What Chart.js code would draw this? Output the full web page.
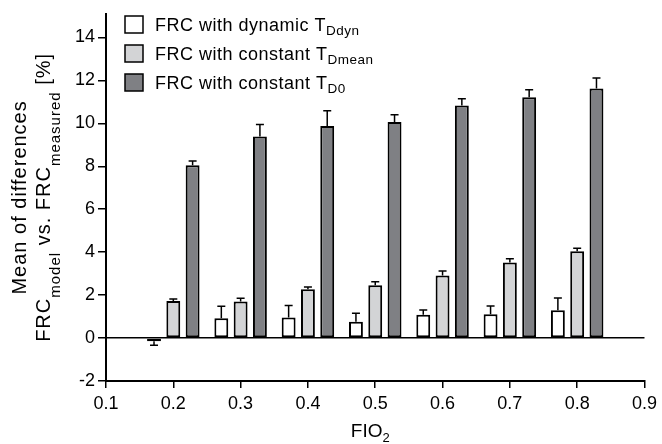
<!DOCTYPE html>
<html>
<head>
<meta charset="utf-8">
<script src="https://cdn.jsdelivr.net/npm/chart.js@4/dist/chart.umd.min.js"></script>
<style>
    html, body { margin: 0; padding: 0; background: #fff; }
    #wrap { width: 662px; height: 444px; position: relative; }
</style>
</head>
<body>
<div id="wrap"><canvas id="frc-chart"></canvas></div>
<script>
// FIO2 categories (0.1 and 0.9 are empty ends of the axis)
const fio2Labels = ['0.1', '0.2', '0.3', '0.4', '0.5', '0.6', '0.7', '0.8', '0.9'];

// mean of differences [%] and error (SD) per series
const dynamicMean = [null, -0.15, 0.92, 0.96, 0.76, 1.08, 1.11, 1.30, null];
const dynamicErr  = [null, 0.18, 0.56, 0.56, 0.40, 0.23, 0.38, 0.56, null];
const dmeanMean   = [null, 1.72, 1.70, 2.27, 2.46, 2.91, 3.52, 4.04, null];
const dmeanErr    = [null, 0.10, 0.15, 0.11, 0.16, 0.21, 0.17, 0.14, null];
const d0Mean      = [null, 8.05, 9.39, 9.88, 10.06, 10.83, 11.21, 11.62, null];
const d0Err       = [null, 0.20, 0.55, 0.70, 0.34, 0.31, 0.35, 0.49, null];

const seriesColors = ['#ffffff', '#d3d4d6', '#7f8084'];
const legendLabels = [
    [{ t: 'FRC with dynamic T' }, { t: 'Ddyn', sub: true }],
    [{ t: 'FRC with constant T' }, { t: 'Dmean', sub: true }],
    [{ t: 'FRC with constant T' }, { t: 'D0', sub: true }]
];
const yTickValues = [-2, 0, 2, 4, 6, 8, 10, 12, 14];

const chartFont = '"Liberation Sans", Arial, sans-serif';
const meansList = [dynamicMean, dmeanMean, d0Mean];
const errsList = [dynamicErr, dmeanErr, d0Err];

/**
 * Draw text made of normal and subscript parts, starting at x
 */
function drawParts(ctx, parts, x, y, mainSize, subSize, subShift) {
    parts.forEach(function(p) {
        ctx.font = (p.sub ? subSize : mainSize) + 'px ' + chartFont;
        ctx.fillText(p.t, x, y + (p.sub ? subShift : 0));
        x += ctx.measureText(p.t).width;
    });
}

function partsWidth(ctx, parts, mainSize, subSize) {
    let w = 0;
    parts.forEach(function(p) {
        ctx.font = (p.sub ? subSize : mainSize) + 'px ' + chartFont;
        w += ctx.measureText(p.t).width;
    });
    return w;
}

// error bars, pointing away from zero
const errorBarPlugin = {
    id: 'errorBars',
    afterDatasetsDraw: function(chart) {
        const ctx = chart.ctx;
        const yScale = chart.scales.y;
        ctx.save();
        ctx.strokeStyle = '#000';
        ctx.lineWidth = 1.5;
        chart.data.datasets.forEach(function(ds, i) {
            const meta = chart.getDatasetMeta(i);
            meta.data.forEach(function(bar, j) {
                const v = meansList[i][j];
                const e = errsList[i][j];
                if (v === null || e === null) {
                    return;
                }
                const yStart = yScale.getPixelForValue(v);
                const yEnd = yScale.getPixelForValue(v >= 0 ? v + e : v - e);
                ctx.beginPath();
                ctx.moveTo(bar.x, yStart);
                ctx.lineTo(bar.x, yEnd);
                ctx.moveTo(bar.x - 4, yEnd);
                ctx.lineTo(bar.x + 4, yEnd);
                ctx.stroke();
            });
        });
        ctx.restore();
    }
};

// axis titles and legend with subscripts
const textPlugin = {
    id: 'richText',
    afterDraw: function(chart) {
        const ctx = chart.ctx;
        const area = chart.chartArea;
        ctx.save();
        ctx.fillStyle = '#000';
        ctx.textAlign = 'left';
        ctx.textBaseline = 'alphabetic';

        // x title
        const xTitle = [{ t: 'FIO' }, { t: '2', sub: true }];
        const xw = partsWidth(ctx, xTitle, 19, 13);
        drawParts(ctx, xTitle, (area.left + area.right) / 2 - 5 - xw / 2, 437, 19, 13, 5);

        // y title, two rotated lines
        const cy = (area.top + area.bottom) / 2;
        const line1 = [{ t: 'Mean of differences' }];
        const line2 = [{ t: 'FRC' }, { t: 'model', sub: true }, { t: ' vs. FRC' },
                       { t: 'measured', sub: true }, { t: ' [%]' }];
        ctx.letterSpacing = '1px';
        ctx.translate(26, cy);
        ctx.rotate(-Math.PI / 2);
        drawParts(ctx, line1, -partsWidth(ctx, line1, 20, 15) / 2, 0, 20, 15, 0);
        ctx.setTransform(1, 0, 0, 1, 0, 0);
        ctx.translate(50, cy);
        ctx.rotate(-Math.PI / 2);
        drawParts(ctx, line2, -partsWidth(ctx, line2, 20, 15) / 2, 0, 20, 15, 10);
        ctx.setTransform(1, 0, 0, 1, 0, 0);

        // legend
        ctx.letterSpacing = '0.5px';
        legendLabels.forEach(function(parts, i) {
            const rowY = 24 + i * 29;
            ctx.fillStyle = seriesColors[i];
            ctx.fillRect(125, rowY - 8, 18, 17);
            ctx.strokeStyle = '#000';
            ctx.lineWidth = 1.5;
            ctx.strokeRect(125, rowY - 8, 18, 17);
            ctx.fillStyle = '#000';
            drawParts(ctx, parts, 155, rowY + 7, 18, 13.5, 4);
        });
        ctx.letterSpacing = '0px';
        ctx.restore();
    }
};

const datasets = meansList.map(function(values, i) {
    return {
        label: legendLabels[i].map(function(p) { return p.t; }).join(''),
        data: values,
        backgroundColor: seriesColors[i],
        borderColor: '#000',
        borderWidth: 2,
        borderSkipped: false,
        categoryPercentage: 0.86,
        barPercentage: 0.72
    };
});

new Chart(document.getElementById('frc-chart'), {
    type: 'bar',
    data: {
        labels: fio2Labels,
        datasets: datasets
    },
    options: {
        responsive: true,
        maintainAspectRatio: false,
        animation: false,
        layout: {
            padding: { top: 5, right: 12, left: 0, bottom: 0 }
        },
        plugins: {
            legend: { display: false },
            tooltip: { enabled: false }
        },
        scales: {
            x: {
                type: 'category',
                offset: false,
                afterFit: function(scale) { scale.height = 63; },
                border: { display: true, color: '#000', width: 2 },
                grid: {
                    offset: false,
                    drawOnChartArea: false,
                    color: '#000',
                    tickColor: '#000',
                    tickLength: 7,
                    lineWidth: 1.5
                },
                ticks: {
                    color: '#000',
                    padding: 5,
                    maxRotation: 0,
                    autoSkip: false,
                    font: { family: chartFont, size: 18 }
                }
            },
            y: {
                min: -2,
                max: 15.1,
                afterFit: function(scale) { scale.width = 106; },
                afterBuildTicks: function(scale) {
                    scale.ticks = yTickValues.map(function(v) { return { value: v }; });
                },
                border: { display: true, color: '#000', width: 2 },
                grid: {
                    drawOnChartArea: true,
                    color: function(ctx) {
                        return ctx.tick && ctx.tick.value === 0 ? '#000' : 'rgba(0,0,0,0)';
                    },
                    tickColor: '#000',
                    tickLength: 8,
                    lineWidth: 1.5
                },
                ticks: {
                    color: '#000',
                    padding: 3,
                    font: { family: chartFont, size: 18 }
                }
            }
        }
    },
    plugins: [errorBarPlugin, textPlugin]
});
</script>
</body>
</html>
